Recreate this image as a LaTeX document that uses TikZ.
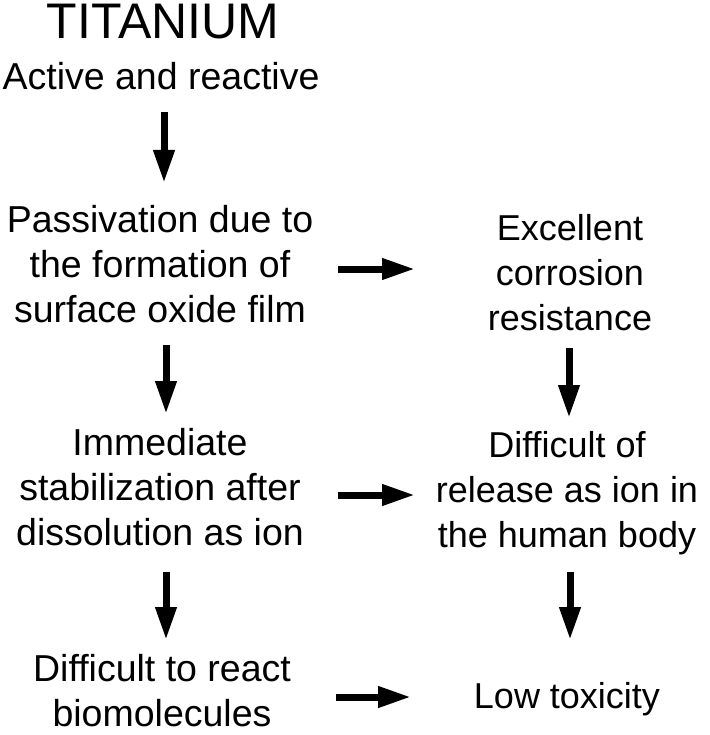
\documentclass[tikz,border=0pt]{standalone}
\usepackage{fontspec}
\setmainfont{Liberation Sans}
\usetikzlibrary{arrows.meta}
\begin{document}
\begin{tikzpicture}[x=1pt,y=-1pt,
  txt/.style={inner sep=0pt,anchor=north,align=center,font=\fontsize{37.5}{45}\selectfont},
  rtxt/.style={txt,font=\fontsize{36}{45}\selectfont},
  flow/.style={line width=7pt,-{Triangle[length=33pt,width=20pt]}}]
\useasboundingbox (0,0) rectangle (709,735);
% texts
\node[inner sep=0pt,anchor=north,font=\fontsize{50}{60}\selectfont] (ti) at (163,4) {TITANIUM};
\node[txt] (act) at (161,62) {Active and reactive};
\node[txt] (pas) at (160,205) {Passivation due to\\the formation of\\surface oxide film};
\node[rtxt] (exc) at (570,214) {Excellent\\corrosion\\resistance};
\node[txt] (imm) at (160,428) {Immediate\\stabilization after\\dissolution as ion};
\node[rtxt] (dif) at (567,431) {Difficult of\\release as ion in\\the human body};
\node[txt] (bio) at (162,654) {Difficult to react\\biomolecules};
\node[rtxt] (low) at (567,682) {Low toxicity};
% arrow end points
\coordinate (a1s) at (164,112); \coordinate (a1e) at (164,183);
\coordinate (h1s) at (338,269); \coordinate (h1e) at (415,269);
\coordinate (a2s) at (166,345); \coordinate (a2e) at (166,414);
\coordinate (b2s) at (569,348); \coordinate (b2e) at (569,418);
\coordinate (h2s) at (338,495); \coordinate (h2e) at (415,495);
\coordinate (a3s) at (166,572); \coordinate (a3e) at (166,640);
\coordinate (b3s) at (570,572); \coordinate (b3e) at (570,640);
\coordinate (h3s) at (336,697); \coordinate (h3e) at (411,697);
\draw[flow] (a1s) -- (a1e);
\draw[flow] (h1s) -- (h1e);
\draw[flow] (a2s) -- (a2e);
\draw[flow] (b2s) -- (b2e);
\draw[flow] (h2s) -- (h2e);
\draw[flow] (a3s) -- (a3e);
\draw[flow] (b3s) -- (b3e);
\draw[flow] (h3s) -- (h3e);
\end{tikzpicture}
\end{document}
